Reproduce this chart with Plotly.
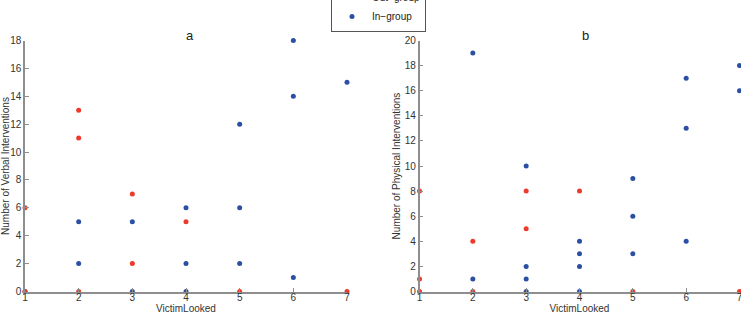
import plotly.graph_objects as go

# Panel a: verbal interventions
a_out_x = [1, 1, 2, 2, 2, 3, 3, 4, 5, 7]
a_out_y = [6, 0, 13, 11, 0, 7, 2, 5, 0, 0]
a_in_x = [1, 2, 2, 3, 3, 4, 4, 4, 5, 5, 5, 6, 6, 6, 7]
a_in_y = [0, 5, 2, 5, 0, 6, 2, 0, 12, 6, 2, 18, 14, 1, 15]

# Panel b: physical interventions
b_out_x = [1, 1, 1, 2, 2, 3, 3, 4, 5, 7]
b_out_y = [8, 1, 0, 4, 0, 8, 5, 8, 0, 0]
b_in_x = [2, 2, 3, 3, 3, 3, 4, 4, 4, 4, 5, 5, 5, 6, 6, 6, 7, 7]
b_in_y = [19, 1, 10, 2, 1, 0, 4, 3, 2, 0, 9, 6, 3, 17, 13, 4, 18, 16]

x_ticks = [1, 2, 3, 4, 5, 6, 7]
a_yticks = [0, 2, 4, 6, 8, 10, 12, 14, 16, 18]
b_yticks = [0, 2, 4, 6, 8, 10, 12, 14, 16, 18, 20]

RED = "#ec3a2b"
BLUE = "#2b4fa3"
FONT = "Liberation Sans, Arial, sans-serif"
W, H = 741, 315

fig = go.Figure()
# in-group drawn first so out-group sits on top at shared points
fig.add_trace(go.Scatter(x=a_in_x, y=a_in_y, mode="markers", name="In\u2212group",
                         marker=dict(color=BLUE, size=5), xaxis="x", yaxis="y",
                         cliponaxis=False, legendrank=2))
fig.add_trace(go.Scatter(x=a_out_x, y=a_out_y, mode="markers", name="Out\u2212group",
                         marker=dict(color=RED, size=5), xaxis="x", yaxis="y",
                         cliponaxis=False, legendrank=1))
fig.add_trace(go.Scatter(x=b_in_x, y=b_in_y, mode="markers", name="In\u2212group",
                         marker=dict(color=BLUE, size=5), xaxis="x2", yaxis="y2",
                         cliponaxis=False, showlegend=False))
fig.add_trace(go.Scatter(x=b_out_x, y=b_out_y, mode="markers", name="Out\u2212group",
                         marker=dict(color=RED, size=5), xaxis="x2", yaxis="y2",
                         cliponaxis=False, showlegend=False))

ydom = [1 - 291.5 / H, 1 - 40.5 / H]
axis_common = dict(showgrid=False, zeroline=False, showline=True, linecolor="#8e8e8e",
                   linewidth=1.5, ticks="inside", ticklen=4, tickcolor="#8e8e8e",
                   tickfont=dict(size=10, color="#333333", family=FONT),
                   ticklabeloverflow="allow", mirror=False)
xtitle = dict(text="VictimLooked", font=dict(size=10, family=FONT, color="#333333"))

fig.update_layout(
    width=W, height=H,
    margin=dict(l=0, r=0, t=0, b=0, autoexpand=False),
    paper_bgcolor="white", plot_bgcolor="white",
    font=dict(family=FONT, color="#333333"),
    showlegend=True,
    legend=dict(x=331 / W, y=1 - 32 / H, xanchor="left", yanchor="bottom",
                bordercolor="#555555", borderwidth=1, bgcolor="white",
                font=dict(size=10, family=FONT, color="#222222"),
                itemwidth=30, tracegroupgap=0),
    xaxis=dict(domain=[25 / W, 347 / W], range=[1, 7], tickvals=x_ticks,
               title=dict(standoff=0, **xtitle), ticklabelstandoff=-4,
               anchor="y", **axis_common),
    yaxis=dict(domain=ydom, range=[0, 18], tickvals=a_yticks,
               title=dict(text="Number of Verbal Interventions",
                          font=dict(size=10, family=FONT, color="#333333"), standoff=2),
               anchor="x", **axis_common),
    xaxis2=dict(domain=[419.5 / W, 739.5 / W], range=[1, 7], tickvals=x_ticks,
                title=dict(standoff=0, **xtitle), ticklabelstandoff=-4,
                anchor="y2", **axis_common),
    yaxis2=dict(domain=ydom, range=[0, 20], tickvals=b_yticks,
                title=dict(text="Number of Physical Interventions",
                           font=dict(size=10, family=FONT, color="#333333"), standoff=2),
                anchor="x2", **axis_common),
    annotations=[
        dict(text="a", x=190 / W, y=1 - 35 / H, xref="paper", yref="paper",
             xanchor="center", yanchor="middle",
             showarrow=False, font=dict(size=13, family=FONT, color="#222222")),
        dict(text="b", x=585 / W, y=1 - 35 / H, xref="paper", yref="paper",
             xanchor="center", yanchor="middle",
             showarrow=False, font=dict(size=13, family=FONT, color="#222222")),
    ],
)

fig.write_html("out.html")
